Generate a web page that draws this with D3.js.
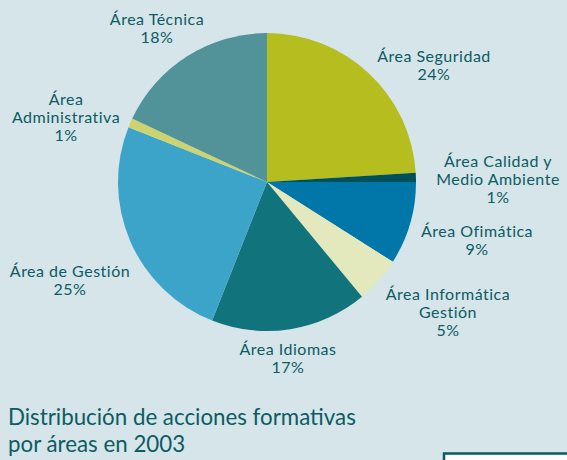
<!DOCTYPE html>
<html>
<head>
<meta charset="utf-8">
<script src="https://cdn.jsdelivr.net/npm/d3@7"></script>
<style>
    html, body { margin: 0; padding: 0; background: #d5e5e9; }
    svg { display: block; }
    text { font-family: Lato, 'Open Sans', sans-serif; fill: #0d5b63; }
</style>
</head>
<body>
<div id="chart"></div>
<script>
'use strict';

// Data (clockwise from 12 o'clock)
const categories = ['Área Seguridad', 'Área Calidad y Medio Ambiente', 'Área Ofimática',
    'Área Informática Gestión', 'Área Idiomas', 'Área de Gestión', 'Área Administrativa', 'Área Técnica'];
const shares = [24, 1, 9, 5, 17, 25, 1, 18];
const sliceColors = ['#b5bd1f', '#00505a', '#0077a8', '#e3e8bd', '#11737b', '#3ca4c9', '#cdd36f', '#52939a'];

// Label lines (how each category label is broken)
const labelLines = [
    ['Área Seguridad'],
    ['Área Calidad y', 'Medio Ambiente'],
    ['Área Ofimática'],
    ['Área Informática', 'Gestión'],
    ['Área Idiomas'],
    ['Área de Gestión'],
    ['Área', 'Administrativa'],
    ['Área Técnica']
];

// Config
const svgW = 567;
const svgH = 460;
const cx = 267;
const cy = 182;
const radius = 149;
const lineH = 18;

// Label anchors: centre x, first baseline y
const labelAt = [
    [434, 62], [498, 167], [477, 237], [448, 300],
    [288, 355], [70, 277], [66, 105], [157, 25]
];

const svg = d3.select('#chart')
    .append('svg')
    .attr('width', svgW)
    .attr('height', svgH);

svg.append('rect')
    .attr('width', svgW)
    .attr('height', svgH)
    .attr('fill', '#d5e5e9');

// Pie
const pie = d3.pie().sort(null).value(d => d);
const arc = d3.arc().innerRadius(0).outerRadius(radius);

const pieG = svg.append('g')
    .attr('transform', `translate(${cx},${cy})`);

pieG.selectAll('path')
    .data(pie(shares))
    .join('path')
    .attr('d', arc)
    .attr('fill', (d, i) => sliceColors[i]);

// Labels, one text per line
const labelG = svg.append('g');
labelLines.forEach((lines, i) => {
    lines.concat([shares[i] + '%']).forEach((s, j) => {
        labelG.append('text')
            .attr('text-anchor', 'middle')
            .attr('font-size', 16)
            .attr('letter-spacing', 0.5)
            .attr('x', labelAt[i][0])
            .attr('y', labelAt[i][1] + j * lineH)
            .text(s);
    });
});

// Title
['Distribución de acciones formativas', 'por áreas en 2003'].forEach((s, j) => {
    svg.append('text')
        .attr('font-size', 22.3)
        .attr('x', 8)
        .attr('y', 425 + j * 27)
        .text(s);
});

// Box at bottom right
svg.append('rect')
    .attr('x', 444)
    .attr('y', 453.5)
    .attr('width', 140)
    .attr('height', 20)
    .attr('fill', '#ffffff')
    .attr('stroke', '#0d5a63')
    .attr('stroke-width', 2.5);
</script>
</body>
</html>
